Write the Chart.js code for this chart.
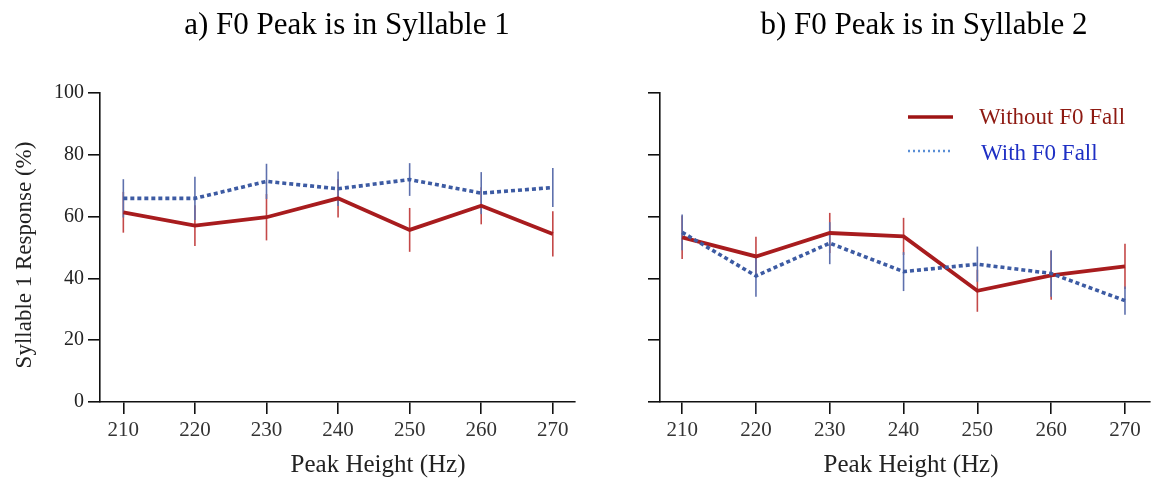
<!DOCTYPE html>
<html>
<head>
<meta charset="utf-8">
<script src="https://cdn.jsdelivr.net/npm/chart.js@4.4.1/dist/chart.umd.min.js"></script>
<style>
  html, body { margin: 0; padding: 0; background: #fff; }
  #wrap { position: relative; width: 1151px; height: 480px; overflow: hidden; }
  canvas { position: absolute; top: 0; }
</style>
</head>
<body>
<div id="wrap">
  <canvas id="cA" width="600" height="480" style="left:0px"></canvas>
  <canvas id="cB" width="551" height="480" style="left:600px"></canvas>
</div>
<script>
// ---------- data ----------
const peakHeights = [210, 220, 230, 240, 250, 260, 270];
const yTicks = [0, 20, 40, 60, 80, 100];

const seriesNames = ['Without F0 Fall', 'With F0 Fall'];

// panel a) F0 peak in syllable 1
const aWithout    = [61.4, 57.1, 59.8, 65.9, 55.7, 63.5, 54.4];
const aWithoutErr = [6.6, 6.6, 7.5, 6.2, 7.1, 6.0, 7.3];
const aWith       = [65.9, 65.9, 71.4, 69.0, 72.0, 67.6, 69.4];
const aWithErr    = [6.2, 7.0, 5.7, 5.6, 5.3, 6.8, 6.3];

// panel b) F0 peak in syllable 2
const bWithout    = [53.3, 47.1, 54.7, 53.6, 36.0, 41.0, 43.9];
const bWithoutErr = [7.0, 6.4, 6.5, 6.0, 6.8, 7.9, 7.3];
const bWith       = [54.9, 40.8, 51.4, 42.2, 44.6, 41.6, 32.8];
const bWithErr    = [5.8, 6.7, 6.8, 6.3, 5.7, 7.5, 4.6];

const panelTitles = ['a) F0 Peak is in Syllable 1', 'b) F0 Peak is in Syllable 2'];
const xTitle = 'Peak Height (Hz)';
const yTitle = 'Syllable 1 Response (%)';

// ---------- styles ----------
const SERIF = '"Liberation Serif", "Times New Roman", serif';
const RED = '#a81c1e';
const BLUE = '#3d5ba3';
const RED_ERR = '#c44848';
const BLUE_ERR = '#5e70ad';

function pts(vals) { return peakHeights.map((x, i) => ({ x: x, y: vals[i] })); }

// error bar plugin (uses library scales)
const errorBars = {
  id: 'errorBars',
  beforeDatasetsDraw(chart) {
    const { ctx, scales: { x, y } } = chart;
    ctx.save();
    chart.data.datasets.forEach(ds => {
      if (!ds.errors) return;
      ctx.strokeStyle = ds.errorColor;
      ctx.lineWidth = 1.6;
      ds.data.forEach((p, i) => {
        const px = x.getPixelForValue(p.x);
        ctx.beginPath();
        ctx.moveTo(px, y.getPixelForValue(p.y - ds.errors[i]));
        ctx.lineTo(px, y.getPixelForValue(p.y + ds.errors[i]));
        ctx.stroke();
      });
    });
    ctx.restore();
  }
};

// free text plugin (panel title, axis titles, legend)
const freeText = {
  id: 'freeText',
  afterDraw(chart, args, opts) {
    const ctx = chart.ctx;
    const off = opts.offsetX || 0;
    ctx.save();
    (opts.texts || []).forEach(t => {
      ctx.save();
      ctx.font = t.size + 'px ' + SERIF;
      ctx.fillStyle = t.color || '#000';
      ctx.textAlign = t.align || 'center';
      ctx.textBaseline = 'middle';
      ctx.translate(t.x - off, t.y);
      if (t.rotate) ctx.rotate(t.rotate);
      ctx.fillText(t.text, 0, 0);
      ctx.restore();
    });
    (opts.legend || []).forEach(l => {
      ctx.save();
      ctx.strokeStyle = l.lineColor;
      ctx.lineWidth = l.lineWidth;
      ctx.setLineDash(l.dash || []);
      ctx.beginPath();
      ctx.moveTo(l.x1 - off, l.y);
      ctx.lineTo(l.x2 - off, l.y);
      ctx.stroke();
      ctx.setLineDash([]);
      ctx.font = l.size + 'px ' + SERIF;
      ctx.fillStyle = l.textColor;
      ctx.textAlign = 'left';
      ctx.textBaseline = 'middle';
      ctx.fillText(l.text, l.tx - off, l.ty);
      ctx.restore();
    });
    ctx.restore();
  }
};

function makeChart(canvasId, without, withoutErr, withVals, withErr, cfg) {
  return new Chart(document.getElementById(canvasId), {
    type: 'line',
    data: {
      datasets: [
        {
          label: seriesNames[0],
          data: pts(without),
          errors: withoutErr,
          errorColor: RED_ERR,
          borderColor: RED,
          borderWidth: 3.8,
          pointRadius: 0,
          tension: 0,
          order: 2
        },
        {
          label: seriesNames[1],
          data: pts(withVals),
          errors: withErr,
          errorColor: BLUE_ERR,
          borderColor: BLUE,
          borderWidth: 3.6,
          borderDash: [4, 3],
          borderCapStyle: 'butt',
          pointRadius: 0,
          tension: 0,
          order: 1
        }
      ]
    },
    options: {
      responsive: false,
      animation: false,
      devicePixelRatio: 1,
      layout: { padding: cfg.padding },
      plugins: {
        legend: { display: false },
        title: { display: false },
        tooltip: { enabled: false },
        freeText: { offsetX: cfg.offsetX, texts: cfg.texts, legend: cfg.legend || [] }
      },
      scales: {
        x: {
          type: 'linear',
          min: cfg.xmin,
          max: cfg.xmax,
          afterBuildTicks: s => { s.ticks = peakHeights.map(v => ({ value: v })); },
          afterFit: s => { s.height = 78; },
          border: { display: true, color: '#111', width: 1.6 },
          grid: { drawOnChartArea: false, drawTicks: true, tickLength: 12, color: '#111', lineWidth: 1.6 },
          ticks: { color: '#333', padding: 4, maxRotation: 0, font: { family: SERIF, size: 21 } }
        },
        y: {
          type: 'linear',
          min: 0,
          max: 100,
          afterBuildTicks: s => { s.ticks = yTicks.map(v => ({ value: v })); },
          afterFit: s => { s.width = cfg.yWidth; },
          border: { display: true, color: '#111', width: 1.6 },
          grid: { drawOnChartArea: false, drawTicks: true, tickLength: 12, color: '#111', lineWidth: 1.6 },
          ticks: { display: cfg.yLabels, color: '#222', padding: 4, font: { family: SERIF, size: 20 } }
        }
      }
    },
    plugins: [errorBars, freeText]
  });
}

makeChart('cA', aWithout, aWithoutErr, aWith, aWithErr, {
  padding: { top: 93, right: 25, bottom: 0, left: 0 },
  xmin: 206.74, xmax: 273.1, yWidth: 100, yLabels: true, offsetX: 0,
  texts: [
    { text: panelTitles[0], x: 347, y: 26, size: 31 },
    { text: xTitle, x: 378, y: 465, size: 25, color: '#222' },
    { text: yTitle, x: 25, y: 255, size: 23, color: '#222', rotate: -Math.PI / 2 }
  ]
});

makeChart('cB', bWithout, bWithoutErr, bWith, bWithErr, {
  padding: { top: 93, right: 1, bottom: 0, left: 0 },
  xmin: 207.0, xmax: 273.39, yWidth: 60, yLabels: false, offsetX: 600,
  texts: [
    { text: panelTitles[1], x: 924, y: 26, size: 31 },
    { text: xTitle, x: 911, y: 465, size: 25, color: '#222' }
  ],
  legend: [
    { text: seriesNames[0], x1: 908, x2: 953, y: 117, lineColor: '#9e1414', lineWidth: 3.5,
      tx: 979, ty: 118, size: 23, textColor: '#8e1a12' },
    { text: seriesNames[1], x1: 908, x2: 953, y: 151, lineColor: '#5b8fd6', lineWidth: 2.5, dash: [2, 3],
      tx: 981, ty: 154, size: 23, textColor: '#1e2fc4' }
  ]
});
</script>
</body>
</html>
